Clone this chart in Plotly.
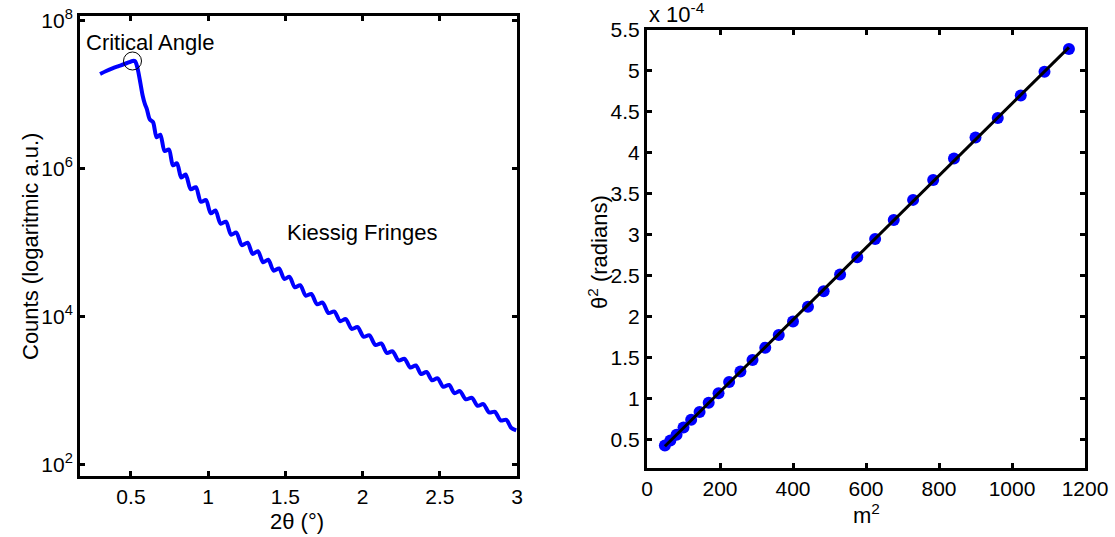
import numpy as np
import plotly.graph_objects as go

# ---- Left panel: X-ray reflectivity scan (2theta in degrees, log10 of counts) ----
two_theta = [
    0.300, 0.340, 0.380, 0.420, 0.460, 0.490, 0.510, 0.525, 0.535, 0.548,
    0.562, 0.576, 0.590, 0.603, 0.622,
    0.643, 0.6665, 0.690, 0.718, 0.746, 0.772, 0.798, 0.826, 0.854, 0.887,
    0.920, 0.953, 0.986, 1.0165, 1.047, 1.081, 1.115, 1.1485, 1.182, 1.2185,
    1.255, 1.2885, 1.322, 1.3555, 1.389, 1.424, 1.459, 1.493, 1.527, 1.5615,
    1.596, 1.632, 1.668, 1.7045, 1.741, 1.779, 1.817, 1.854, 1.891, 1.9295,
    1.968, 2.006, 2.044, 2.0825, 2.121, 2.1575, 2.194, 2.233, 2.272, 2.3085,
    2.345, 2.3795, 2.414, 2.450, 2.486, 2.523, 2.560, 2.595, 2.630, 2.669,
    2.708, 2.745, 2.782, 2.8195, 2.857, 2.894, 2.931, 2.962, 2.995,
]
log10_counts = [
    7.275, 7.315, 7.350, 7.380, 7.410, 7.435, 7.450, 7.450, 7.410, 7.300,
    7.140, 6.980, 6.870, 6.800, 6.660,
    6.624, 6.419, 6.455, 6.234, 6.254, 6.040, 6.067, 5.875, 5.917, 5.717,
    5.745, 5.547, 5.570, 5.392, 5.430, 5.251, 5.279, 5.103, 5.131, 4.961,
    4.995, 4.843, 4.880, 4.730, 4.765, 4.617, 4.647, 4.505, 4.533, 4.392,
    4.420, 4.279, 4.302, 4.163, 4.185, 4.044, 4.065, 3.935, 3.962, 3.830,
    3.854, 3.724, 3.744, 3.613, 3.633, 3.505, 3.527, 3.403, 3.426, 3.308,
    3.335, 3.220, 3.248, 3.136, 3.162, 3.048, 3.073, 2.962, 2.989, 2.878,
    2.899, 2.790, 2.814, 2.700, 2.709, 2.593, 2.602, 2.494, 2.460,
]
left_xticks = [0.5, 1, 1.5, 2, 2.5, 3]
left_xticklabels = ["0.5", "1", "1.5", "2", "2.5", "3"]
left_yticks = [1e2, 1e4, 1e6, 1e8]
left_yticklabels = ["10<sup>2</sup>", "10<sup>4</sup>", "10<sup>6</sup>", "10<sup>8</sup>"]

# ---- Right panel: Kiessig fringe order squared vs theta squared ----
m_squared = [49, 64, 81, 100, 121, 144, 169, 196, 225, 256, 289, 324, 361, 400,
             441, 484, 529, 576, 625, 676, 729, 784, 841, 900, 961, 1024, 1089, 1156]
theta_squared = [0.424e-4, 0.485e-4, 0.555e-4, 0.645e-4, 0.740e-4, 0.835e-4,
                 0.946e-4, 1.064e-4, 1.200e-4, 1.330e-4, 1.470e-4, 1.620e-4,
                 1.775e-4, 1.940e-4, 2.120e-4, 2.308e-4, 2.513e-4, 2.723e-4,
                 2.948e-4, 3.180e-4, 3.425e-4, 3.667e-4, 3.930e-4, 4.188e-4,
                 4.426e-4, 4.700e-4, 4.990e-4, 5.268e-4]
right_xticks = [0, 200, 400, 600, 800, 1000, 1200]
right_yticks = [0.5e-4, 1e-4, 1.5e-4, 2e-4, 2.5e-4, 3e-4, 3.5e-4, 4e-4, 4.5e-4, 5e-4, 5.5e-4]
right_yticklabels = ["0.5", "1", "1.5", "2", "2.5", "3", "3.5", "4", "4.5", "5", "5.5"]

W, H = 1115, 537
FONT = "Liberation Sans, Arial, Helvetica, sans-serif"
BLUE = "#0000FF"


def px_x(p):
    return p / W


def px_y(p):
    return 1 - p / H


counts = 10 ** np.array(log10_counts)
peak = int(np.argmax(counts))

fig = go.Figure()

fig.add_trace(go.Scatter(
    x=two_theta, y=counts, mode="lines",
    line=dict(color=BLUE, width=4, shape="spline", smoothing=0.8),
    xaxis="x", yaxis="y", hoverinfo="skip",
))
# circle marking the critical angle
fig.add_trace(go.Scatter(
    x=[two_theta[peak]], y=[counts[peak]], mode="markers",
    marker=dict(symbol="circle-open", size=18, color="black", line=dict(width=1, color="black")),
    xaxis="x", yaxis="y", hoverinfo="skip",
))

# linear fit of theta^2 against m^2
slope, intercept = np.polyfit(m_squared, theta_squared, 1)
fit_x = np.array([min(m_squared), max(m_squared)])
fit_y = intercept + slope * fit_x

fig.add_trace(go.Scatter(
    x=m_squared, y=theta_squared, mode="markers",
    marker=dict(symbol="circle", size=12, color=BLUE, line=dict(width=0)),
    xaxis="x2", yaxis="y2", hoverinfo="skip",
))
fig.add_trace(go.Scatter(
    x=fit_x, y=fit_y, mode="lines",
    line=dict(color="black", width=3),
    xaxis="x2", yaxis="y2", hoverinfo="skip",
))

axis_common = dict(
    showline=True, linewidth=3, linecolor="black", mirror="allticks",
    ticks="inside", ticklen=5, tickwidth=2.5, tickcolor="black",
    showgrid=False, zeroline=False,
    tickfont=dict(family=FONT, size=21, color="black"),
    automargin=False,
)

fig.update_layout(
    width=W, height=H,
    margin=dict(l=0, r=0, t=0, b=0),
    paper_bgcolor="white", plot_bgcolor="white",
    showlegend=False,
    font=dict(family=FONT, size=21, color="black"),
    xaxis=dict(domain=[px_x(80), px_x(517)], range=[0.17, 3.0], anchor="y",
               tickmode="array", tickvals=left_xticks, ticktext=left_xticklabels,
               **axis_common),
    yaxis=dict(domain=[px_y(476), px_y(16)], type="log", range=[1.842, 8.058], anchor="x",
               tickmode="array", tickvals=left_yticks, ticktext=left_yticklabels,
               **axis_common),
    xaxis2=dict(domain=[px_x(647), px_x(1085)], range=[0, 1200], anchor="y2",
                tickmode="array", tickvals=right_xticks,
                ticktext=[str(v) for v in right_xticks],
                **axis_common),
    yaxis2=dict(domain=[px_y(468), px_y(30)], range=[0.15e-4, 5.5e-4], anchor="x2",
                tickmode="array", tickvals=right_yticks, ticktext=right_yticklabels,
                **axis_common),
)

ann_font = dict(family=FONT, size=22, color="black")
annotations = [
    dict(text="Counts (logaritmic a.u.)", x=px_x(30), y=px_y(247), textangle=-90),
    dict(text="2θ (°)", x=px_x(297), y=px_y(521)),
    dict(text="θ<sup>2</sup> (radians)", x=px_x(598), y=px_y(252), textangle=-90),
    dict(text="m<sup>2</sup>", x=px_x(866), y=px_y(514)),
    dict(text="x 10<sup>-4</sup>", x=px_x(647), y=px_y(13), xanchor="left"),
    dict(text="Critical Angle", x=px_x(84), y=px_y(43), xanchor="left"),
    dict(text="Kiessig Fringes", x=px_x(285), y=px_y(233), xanchor="left"),
]
for a in annotations:
    a.setdefault("xanchor", "center")
    fig.add_annotation(xref="paper", yref="paper", showarrow=False, yanchor="middle",
                       font=ann_font, **a)

fig.write_html("out.html")
